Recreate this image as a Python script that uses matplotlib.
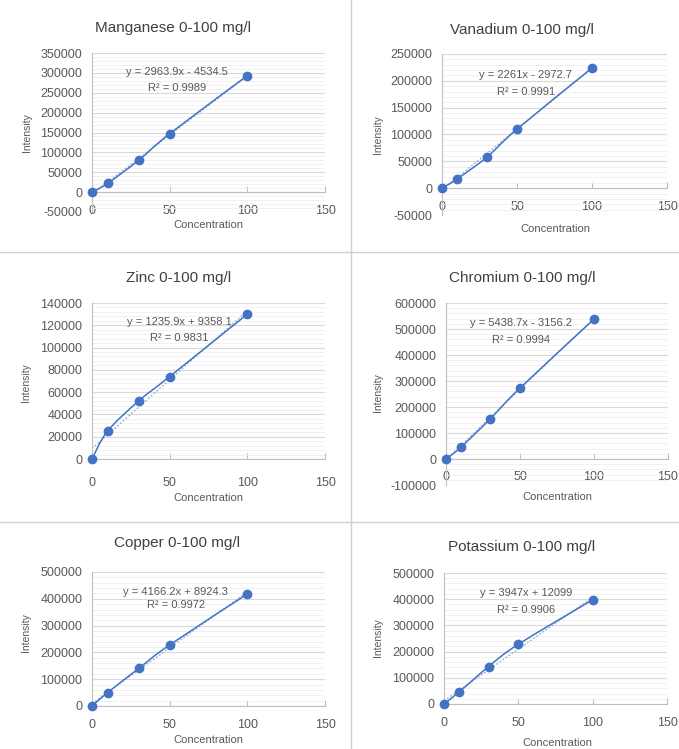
import numpy as np
import matplotlib
matplotlib.use("Agg")
import matplotlib.pyplot as plt
from matplotlib.path import Path
from matplotlib.patches import PathPatch
from matplotlib.ticker import MultipleLocator

plt.rcParams["font.family"] = ["Liberation Sans", "DejaVu Sans"]
plt.rcParams["axes.unicode_minus"] = False

# ---- data -------------------------------------------------------------
conc = [0, 10, 30, 50, 100]

names = ["Manganese", "Vanadium", "Zinc", "Chromium", "Copper", "Potassium"]
intensity = [
    [0, 22000, 80000, 147000, 293000],     # Manganese
    [0, 17000, 58000, 110000, 224000],     # Vanadium
    [0, 25000, 52000, 74000, 130000],      # Zinc
    [0, 45000, 155000, 273000, 538000],    # Chromium
    [0, 50000, 140000, 228000, 418000],    # Copper
    [0, 45000, 143000, 228000, 398000],    # Potassium
]
slopes = [2963.9, 2261, 1235.9, 5438.7, 4166.2, 3947]
intercepts = [-4534.5, -2972.7, 9358.1, -3156.2, 8924.3, 12099]
eq_text = ["y = 2963.9x - 4534.5", "y = 2261x - 2972.7", "y = 1235.9x + 9358.1",
           "y = 5438.7x - 3156.2", "y = 4166.2x + 8924.3", "y = 3947x + 12099"]
r2_text = ["R² = 0.9989", "R² = 0.9991", "R² = 0.9831",
           "R² = 0.9994", "R² = 0.9972", "R² = 0.9906"]
y_limits = [(-50000, 350000), (-50000, 250000), (0, 140000),
            (-100000, 600000), (0, 500000), (0, 500000)]
y_steps = [50000, 50000, 20000, 100000, 100000, 100000]

# ---- layout (pixels) ---------------------------------------------------
W, H = 679, 749
# left, top, right, bottom of plot area
boxes = [(92, 53, 325, 212), (442, 54, 667, 215),
         (92, 303, 325, 459), (446, 303, 668, 485),
         (92, 572, 325, 706), (444, 573, 667, 704)]
title_pos = [(173, 28), (522, 30), (179, 278), (522, 278), (177, 543), (522, 547)]
ylab_pos = [(27, 133), (378, 135), (26, 383), (378, 393), (26, 633), (378, 638)]
xlab_pos = [(208, 225), (555, 229), (208, 498), (557, 497), (208, 740), (557, 743)]
eq_pos = [(0.365, 0.88, 0.78), (0.373, 0.87, 0.764), (0.373, 0.88, 0.776),
          (0.34, 0.89, 0.797), (0.36, 0.85, 0.754), (0.37, 0.847, 0.72)]
xtick_pad = [9, 9, 13, 9, 9, 9]

BLUE = "#4472C4"
TXT = "#595959"


def smooth_path(xs, ys, t=1 / 6):
    """Excel-style smoothed line: Catmull-Rom converted to cubic Bezier."""
    pts = np.column_stack([xs, ys]).astype(float)
    n = len(pts)
    verts = [pts[0]]
    codes = [Path.MOVETO]
    for i in range(n - 1):
        p0 = pts[i - 1] if i > 0 else pts[i]
        p1 = pts[i]
        p2 = pts[i + 1]
        p3 = pts[i + 2] if i + 2 < n else pts[i + 1]
        c1 = p1 + (p2 - p0) * t
        c2 = p2 - (p3 - p1) * t
        verts += [c1, c2, p2]
        codes += [Path.CURVE4] * 3
    return Path(verts, codes)


fig = plt.figure(figsize=(W / 100, H / 100), dpi=100)

# panel separators
fig.add_artist(plt.Line2D([351 / W, 351 / W], [0, 1], color="#d0d0d0", lw=1))
for yy in (252, 522):
    fig.add_artist(plt.Line2D([0, 1], [1 - yy / H, 1 - yy / H], color="#d0d0d0", lw=1))

for i, name in enumerate(names):
    l, t, r, b = boxes[i]
    ax = fig.add_axes([l / W, 1 - b / H, (r - l) / W, (b - t) / H])
    ymin, ymax = y_limits[i]
    step = y_steps[i]
    ax.set_xlim(0, 150)
    ax.set_ylim(ymin, ymax)
    ax.xaxis.set_major_locator(MultipleLocator(50))
    ax.yaxis.set_major_locator(MultipleLocator(step))
    ax.yaxis.set_minor_locator(MultipleLocator(step / 5))
    ax.grid(which="major", axis="y", color="#d9d9d9", lw=0.8)
    ax.grid(which="minor", axis="y", color="#efefef", lw=0.6)
    ax.set_axisbelow(True)
    for s in ("top", "right"):
        ax.spines[s].set_visible(False)
    ax.spines["bottom"].set_position(("data", 0))
    ax.spines["bottom"].set_color("#bfbfbf")
    ax.spines["left"].set_color("#bfbfbf")
    ax.tick_params(axis="x", which="major", length=4, direction="in", color="#bfbfbf",
                   labelsize=9, labelcolor=TXT, pad=xtick_pad[i])
    ax.tick_params(axis="y", which="both", length=0, labelsize=9,
                   labelcolor=TXT, pad=7)
    ax.tick_params(axis="x", which="minor", length=0)

    # linear trendline
    xt = np.array([conc[0], conc[-1]])
    ax.plot(xt, slopes[i] * xt + intercepts[i], color="#8faadc", lw=0.9,
            ls=(0, (1.5, 1.5)), zorder=2)
    # smoothed data line + markers
    ax.add_patch(PathPatch(smooth_path(conc, intensity[i]), facecolor="none",
                           edgecolor=BLUE, lw=1.1, zorder=3))
    ax.plot(conc, intensity[i], "o", color=BLUE, ms=6, zorder=4, clip_on=False)

    ex, ey, ry = eq_pos[i]
    ax.text(ex, ey, eq_text[i], transform=ax.transAxes, ha="center", va="center",
            fontsize=8, color=TXT, zorder=5)
    ax.text(ex, ry, r2_text[i], transform=ax.transAxes, ha="center", va="center",
            fontsize=8, color=TXT, zorder=5)

    tx, ty = title_pos[i]
    fig.text(tx / W, 1 - ty / H, f"{name} 0-100 mg/l", ha="center", va="center",
             fontsize=11, color="#404040")
    yx, yy = ylab_pos[i]
    fig.text(yx / W, 1 - yy / H, "Intensity", rotation=90, ha="center", va="center",
             fontsize=7.5, color=TXT)
    xx, xy = xlab_pos[i]
    fig.text(xx / W, 1 - xy / H, "Concentration", ha="center", va="center",
             fontsize=8, color=TXT)

fig.savefig("out.png", dpi=100)
